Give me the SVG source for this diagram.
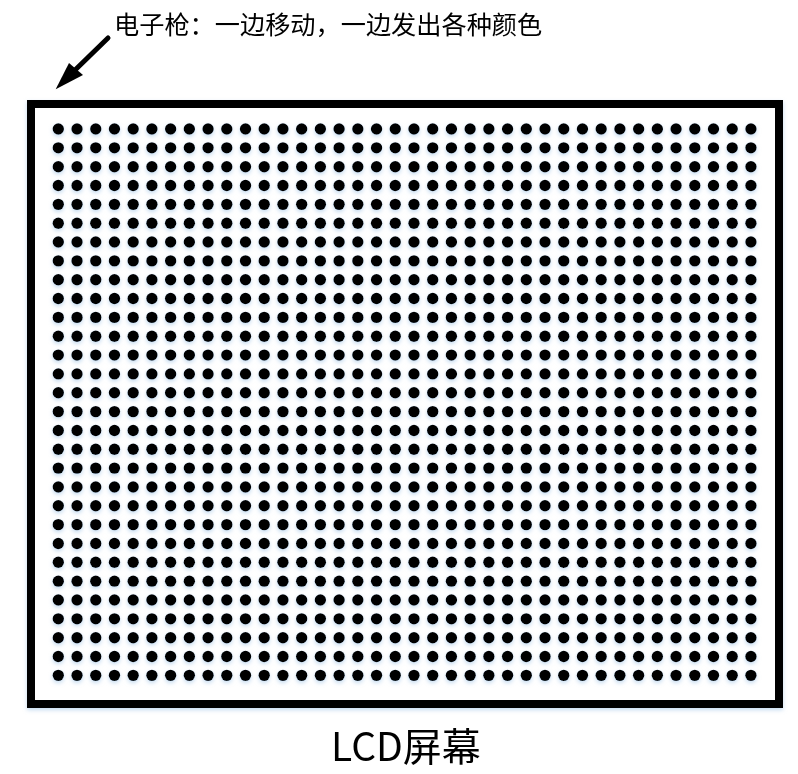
<svg xmlns="http://www.w3.org/2000/svg" xmlns:xlink="http://www.w3.org/1999/xlink" width="798" height="774" viewBox="0 0 798 774">
<style>
.lbl{font-family:"Noto Sans CJK SC","Liberation Sans",sans-serif;fill:#000}
.dot{fill:#000}
</style>
<defs>
<filter id="glow" x="-5%" y="-5%" width="110%" height="110%">
<feDropShadow dx="0" dy="2" stdDeviation="2" flood-color="#9dc3e6" flood-opacity="0.6"/>
</filter>
<circle id="d" r="5.7" class="dot"/>
<g id="row">
<use xlink:href="#d" x="58.3"/><use xlink:href="#d" x="77.02"/><use xlink:href="#d" x="95.74"/><use xlink:href="#d" x="114.46"/><use xlink:href="#d" x="133.18"/><use xlink:href="#d" x="151.9"/><use xlink:href="#d" x="170.62"/><use xlink:href="#d" x="189.34"/><use xlink:href="#d" x="208.06"/><use xlink:href="#d" x="226.78"/><use xlink:href="#d" x="245.5"/><use xlink:href="#d" x="264.22"/><use xlink:href="#d" x="282.94"/><use xlink:href="#d" x="301.66"/><use xlink:href="#d" x="320.38"/><use xlink:href="#d" x="339.1"/><use xlink:href="#d" x="357.82"/><use xlink:href="#d" x="376.54"/><use xlink:href="#d" x="395.26"/><use xlink:href="#d" x="413.98"/><use xlink:href="#d" x="432.7"/><use xlink:href="#d" x="451.42"/><use xlink:href="#d" x="470.14"/><use xlink:href="#d" x="488.86"/><use xlink:href="#d" x="507.58"/><use xlink:href="#d" x="526.3"/><use xlink:href="#d" x="545.02"/><use xlink:href="#d" x="563.74"/><use xlink:href="#d" x="582.46"/><use xlink:href="#d" x="601.18"/><use xlink:href="#d" x="619.9"/><use xlink:href="#d" x="638.62"/><use xlink:href="#d" x="657.34"/><use xlink:href="#d" x="676.06"/><use xlink:href="#d" x="694.78"/><use xlink:href="#d" x="713.5"/><use xlink:href="#d" x="732.22"/><use xlink:href="#d" x="750.94"/>
</g>
</defs>
<rect width="798" height="774" fill="#fff"/>
<g id="screen">
<rect x="31" y="104" width="748" height="600" fill="#fff" stroke="#000" stroke-width="8" filter="url(#glow)"/>
<g id="pixels" filter="url(#glow)">
<use xlink:href="#row" y="129"/><use xlink:href="#row" y="147.84"/><use xlink:href="#row" y="166.68"/><use xlink:href="#row" y="185.52"/><use xlink:href="#row" y="204.36"/><use xlink:href="#row" y="223.2"/><use xlink:href="#row" y="242.04"/><use xlink:href="#row" y="260.88"/><use xlink:href="#row" y="279.72"/><use xlink:href="#row" y="298.56"/><use xlink:href="#row" y="317.4"/><use xlink:href="#row" y="336.24"/><use xlink:href="#row" y="355.08"/><use xlink:href="#row" y="373.92"/><use xlink:href="#row" y="392.76"/><use xlink:href="#row" y="411.6"/><use xlink:href="#row" y="430.44"/><use xlink:href="#row" y="449.28"/><use xlink:href="#row" y="468.12"/><use xlink:href="#row" y="486.96"/><use xlink:href="#row" y="505.8"/><use xlink:href="#row" y="524.64"/><use xlink:href="#row" y="543.48"/><use xlink:href="#row" y="562.32"/><use xlink:href="#row" y="581.16"/><use xlink:href="#row" y="600"/><use xlink:href="#row" y="618.84"/><use xlink:href="#row" y="637.68"/><use xlink:href="#row" y="656.52"/><use xlink:href="#row" y="675.36"/>
</g>
</g>
<g id="connectors">
<line x1="108" y1="38" x2="72" y2="73" stroke="#000" stroke-width="5" stroke-linecap="round"/>
<polygon points="55.7,89.3 69,63 83,75" fill="#000"/>
</g>
<g id="label-gun">
<text class="lbl" x="114" y="34" font-size="25.2">电子枪：一边移动，一边发出各种颜色</text>
</g>
<g id="label-lcd">
<text class="lbl" x="406" y="761" font-size="39" text-anchor="middle">LCD屏幕</text>
</g>
</svg>
